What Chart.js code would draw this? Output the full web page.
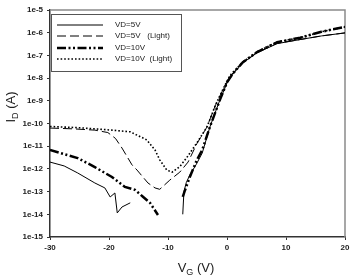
<!DOCTYPE html>
<html><head><meta charset="utf-8">
<script src="https://cdn.jsdelivr.net/npm/chart.js@4"></script>
<style>html,body{margin:0;padding:0;background:#fff}#wrap{width:354px;height:277px}</style>
</head><body><div id="wrap"><canvas id="c" width="354" height="277"></canvas></div>
<script>
const seriesLabels = ["VD=5V", "VD=5V   (Light)", "VD=10V", "VD=10V  (Light)"];

const vgVD5 = [-30, -27.6, -25.3, -22.4, -20.7, -19.8, -19.0, -18.6, -17.8, -16.4, -12, -7.5, -7.3, -6.9, -6.3, -5.2, -4.2, -2.9, -1.2, 0, 1, 2.7, 5.1, 8.5, 12.4, 16, 20];
const idVD5 = [2.0e-12, 1.35e-12, 6.6e-13, 2.4e-13, 1.45e-13, 5.8e-14, 8.7e-14, 1.15e-14, 2.1e-14, 3.2e-14, null, 1.0e-14, 1e-13, 2.5e-13, 5.4e-13, 1.6e-12, 5e-12, 7e-11, 1.1e-9, 6e-9, 1.5e-8, 4.7e-8, 1.3e-7, 3.3e-7, 5e-7, 7.2e-7, 9.8e-7];

const vgVD5L = [-30, -26, -22.4, -20.2, -18.9, -17.8, -16.1, -15.25, -13.4, -12.2, -11.4, -9.7, -8.0, -6.6, -5.1, -3.4, -1.9, -0.7, 0.5, 2.7, 5.1, 8.5, 12.4, 16, 20];
const idVD5L = [6.3e-11, 5.8e-11, 5.1e-11, 4e-11, 2.2e-11, 8.3e-12, 1.5e-12, 8.9e-13, 2.4e-13, 1.45e-13, 1.26e-13, 3.2e-13, 7.2e-13, 2e-12, 1.3e-11, 7e-11, 7e-10, 3e-9, 1.2e-8, 4.9e-8, 1.35e-7, 3.4e-7, 5e-7, 7.2e-7, 9.8e-7];

const vgVD10 = [-30, -25.3, -22.4, -19.5, -17.3, -15.6, -14.2, -13.05, -11.7, -9.5, -7.5, -7.2, -6.3, -5.1, -4.2, -2.9, -1.2, 0, 1, 2.7, 5.1, 8.5, 12.4, 16, 20];
const idVD10 = [6.8e-12, 3e-12, 1.2e-12, 4.4e-13, 1.6e-13, 1.2e-13, 5.8e-14, 3.2e-14, 9.3e-15, null, 5.8e-14, 1e-13, 4.4e-13, 2.5e-12, 6.8e-12, 7e-11, 1.1e-9, 6.5e-9, 1.6e-8, 5e-8, 1.4e-7, 3.8e-7, 6e-7, 1.1e-6, 1.8e-6];

const vgVD10L = [-30, -25, -19.5, -16.4, -13.6, -12.2, -11.4, -10.2, -9.3, -8.0, -6.8, -5.1, -3.4, -1.9, -0.7, 0.5, 2.7, 5.1, 8.5, 12.4, 16, 20];
const idVD10L = [7.4e-11, 6.5e-11, 5.1e-11, 4.3e-11, 1.9e-11, 6.8e-12, 2.5e-12, 8.9e-13, 7.2e-13, 1.26e-12, 3.2e-12, 1.4e-11, 7e-11, 7e-10, 3.2e-9, 1.3e-8, 5.2e-8, 1.45e-7, 3.9e-7, 6e-7, 1.1e-6, 1.8e-6];

const yTickExponents = [-15, -14, -13, -12, -11, -10, -9, -8, -7, -6, -5];
const xTickValues = [-30, -20, -10, 0, 10, 20];

const FONT = "'Liberation Sans', Arial, sans-serif";
const toPts = (xs, ys) => xs.map((x, i) => ({x: x, y: ys[i]}));

const framePlugin = {
  id: 'frame',
  beforeDatasetsDraw(chart) {
    const a = chart.chartArea, ctx = chart.ctx;
    ctx.save();
    ctx.strokeStyle = '#8a8a8a';
    ctx.lineWidth = 1.5;
    ctx.beginPath();
    ctx.moveTo(a.left, a.top);
    ctx.lineTo(a.right, a.top);
    ctx.lineTo(a.right, a.bottom);
    ctx.stroke();
    ctx.restore();
  }
};

function drawSubText(ctx, parts) {
  let total = 0;
  parts.forEach(p => { ctx.font = p[1] + 'px ' + FONT; total += ctx.measureText(p[0]).width; });
  let x = -total / 2;
  parts.forEach(p => {
    ctx.font = p[1] + 'px ' + FONT;
    ctx.fillText(p[0], x, p[2]);
    x += ctx.measureText(p[0]).width;
  });
}

const titlePlugin = {
  id: 'titles',
  afterDraw(chart) {
    const ctx = chart.ctx;
    ctx.save();
    ctx.fillStyle = '#222';
    ctx.textAlign = 'left';
    ctx.textBaseline = 'alphabetic';
    ctx.save();
    ctx.translate(15, 107);
    ctx.rotate(-Math.PI / 2);
    drawSubText(ctx, [['I', 13, 0], ['D', 9, 3], [' (A)', 13, 0]]);
    ctx.restore();
    ctx.save();
    ctx.translate(196, 272);
    drawSubText(ctx, [['V', 13, 0], ['G', 9, 3], [' (V)', 13, 0]]);
    ctx.restore();
    ctx.restore();
  }
};

const legendPlugin = {
  id: 'boxLegend',
  afterDatasetsDraw(chart) {
    const ctx = chart.ctx;
    const rows = [25, 36, 48, 59];
    ctx.save();
    ctx.fillStyle = '#fff';
    ctx.fillRect(51, 14, 130, 57);
    ctx.strokeStyle = '#555';
    ctx.lineWidth = 1;
    ctx.strokeRect(51.5, 14.5, 130, 57);
    chart.data.datasets.forEach((ds, i) => {
      const y = rows[i];
      ctx.save();
      ctx.strokeStyle = ds.borderColor;
      ctx.lineWidth = ds.borderWidth;
      ctx.setLineDash(ds.borderDash || []);
      ctx.beginPath();
      ctx.moveTo(57, y);
      ctx.lineTo(103, y);
      ctx.stroke();
      ctx.restore();
      ctx.fillStyle = '#222';
      ctx.font = '8px ' + FONT;
      ctx.textBaseline = 'middle';
      ctx.textAlign = 'left';
      ctx.fillText(ds.label, 115, y);
    });
    ctx.restore();
  }
};

const common = {fill: false, tension: 0, pointRadius: 0, spanGaps: false, borderColor: '#000'};

new Chart(document.getElementById('c'), {
  type: 'line',
  data: {
    datasets: [
      Object.assign({label: seriesLabels[0], data: toPts(vgVD5, idVD5), borderWidth: 1}, common),
      Object.assign({label: seriesLabels[1], data: toPts(vgVD5L, idVD5L), borderWidth: 1, borderDash: [9, 4]}, common),
      Object.assign({label: seriesLabels[2], data: toPts(vgVD10, idVD10), borderWidth: 2.5, borderDash: [9, 2.5, 2, 2.5, 2, 2.5]}, common),
      Object.assign({label: seriesLabels[3], data: toPts(vgVD10L, idVD10L), borderWidth: 1.6, borderDash: [1.6, 2]}, common)
    ]
  },
  options: {
    responsive: false,
    devicePixelRatio: 1,
    animation: false,
    layout: {padding: {left: 0, top: 10, right: 9, bottom: 0}},
    plugins: {legend: {display: false}, tooltip: {enabled: false}},
    scales: {
      x: {
        type: 'linear', min: -30, max: 20,
        afterFit(s) { s.height = 40; },
        afterBuildTicks(s) { s.ticks = xTickValues.map(v => ({value: v})); },
        grid: {display: true, drawOnChartArea: false, drawTicks: true, tickLength: 3, tickColor: '#333'},
        border: {display: true, color: '#333', width: 1.5},
        ticks: {color: '#222', padding: 3, maxRotation: 0, font: {family: FONT, size: 8, weight: 'bold'}}
      },
      y: {
        type: 'logarithmic', min: 1e-15, max: 1e-5,
        afterFit(s) { s.width = 50; },
        afterBuildTicks(s) { s.ticks = yTickExponents.map(e => ({value: Math.pow(10, e)})); },
        grid: {display: true, drawOnChartArea: false, drawTicks: true, tickLength: 3, tickColor: '#333'},
        border: {display: true, color: '#333', width: 1.5},
        ticks: {
          color: '#222', padding: 4, autoSkip: false, font: {family: FONT, size: 8, weight: 'bold'},
          callback: (v) => '1e' + Math.round(Math.log10(v))
        }
      }
    }
  },
  plugins: [framePlugin, legendPlugin, titlePlugin]
});
</script>
</body></html>
